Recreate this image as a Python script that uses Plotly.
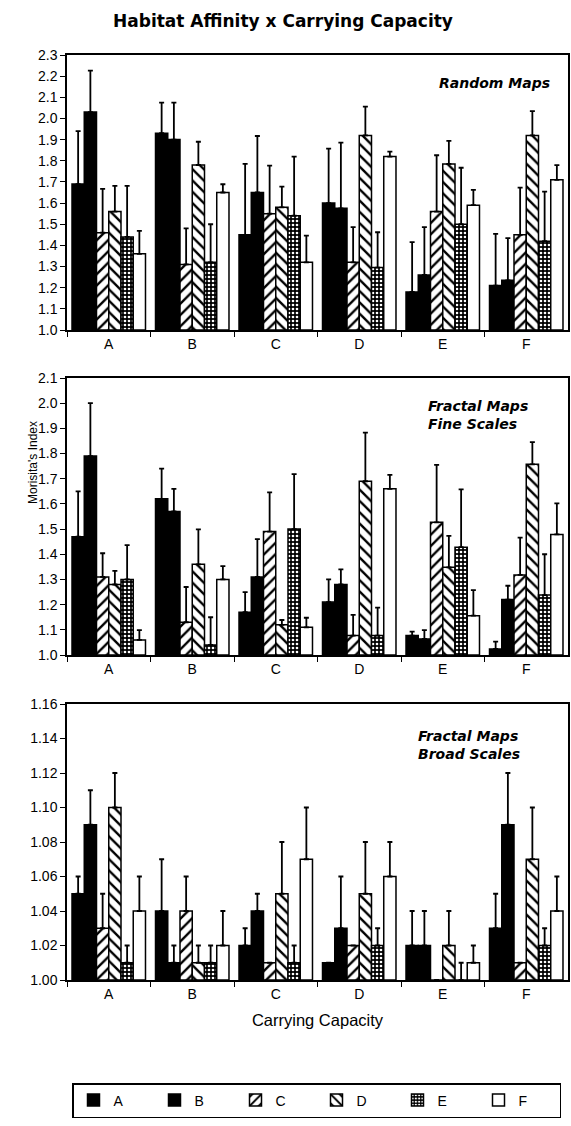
import plotly.graph_objects as go

# ---------------- data ----------------
categories = ["A", "B", "C", "D", "E", "F"]
series_names = ["A", "B", "C", "D", "E", "F"]

# Random Maps: mean per series (across carrying-capacity groups A..F) and upper error
random_A = [1.69, 1.93, 1.45, 1.60, 1.18, 1.21]
random_B = [2.03, 1.90, 1.65, 1.575, 1.26, 1.235]
random_C = [1.46, 1.31, 1.55, 1.32, 1.56, 1.45]
random_D = [1.56, 1.78, 1.58, 1.92, 1.785, 1.92]
random_E = [1.44, 1.32, 1.54, 1.295, 1.50, 1.42]
random_F = [1.36, 1.65, 1.32, 1.82, 1.59, 1.71]
random_err_A = [0.25, 0.145, 0.335, 0.257, 0.235, 0.244]
random_err_B = [0.196, 0.175, 0.267, 0.311, 0.226, 0.199]
random_err_C = [0.207, 0.17, 0.227, 0.166, 0.266, 0.223]
random_err_D = [0.121, 0.11, 0.098, 0.136, 0.109, 0.115]
random_err_E = [0.241, 0.18, 0.28, 0.167, 0.267, 0.234]
random_err_F = [0.109, 0.039, 0.126, 0.023, 0.072, 0.069]

# Fractal Maps, Fine Scales
fine_A = [1.47, 1.62, 1.17, 1.21, 1.077, 1.024]
fine_B = [1.79, 1.57, 1.31, 1.28, 1.064, 1.22]
fine_C = [1.31, 1.13, 1.49, 1.077, 1.527, 1.318]
fine_D = [1.28, 1.36, 1.12, 1.69, 1.348, 1.757]
fine_E = [1.30, 1.04, 1.50, 1.077, 1.428, 1.238]
fine_F = [1.06, 1.30, 1.11, 1.66, 1.156, 1.479]
fine_err_A = [0.18, 0.12, 0.08, 0.09, 0.016, 0.029]
fine_err_B = [0.21, 0.09, 0.15, 0.06, 0.035, 0.055]
fine_err_C = [0.094, 0.14, 0.156, 0.082, 0.228, 0.148]
fine_err_D = [0.054, 0.139, 0.019, 0.193, 0.125, 0.088]
fine_err_E = [0.136, 0.11, 0.218, 0.111, 0.23, 0.162]
fine_err_F = [0.039, 0.053, 0.038, 0.055, 0.102, 0.123]

# Fractal Maps, Broad Scales
broad_A = [1.05, 1.04, 1.02, 1.01, 1.02, 1.03]
broad_B = [1.09, 1.01, 1.04, 1.03, 1.02, 1.09]
broad_C = [1.03, 1.04, 1.01, 1.02, 1.00, 1.01]
broad_D = [1.10, 1.01, 1.05, 1.05, 1.02, 1.07]
broad_E = [1.01, 1.01, 1.01, 1.02, 1.00, 1.02]
broad_F = [1.04, 1.02, 1.07, 1.06, 1.01, 1.04]
broad_err_A = [0.01, 0.03, 0.01, 0.0, 0.02, 0.02]
broad_err_B = [0.02, 0.01, 0.01, 0.03, 0.02, 0.03]
broad_err_C = [0.02, 0.02, 0.0, 0.0, 0.0, 0.0]
broad_err_D = [0.02, 0.01, 0.03, 0.03, 0.02, 0.03]
broad_err_E = [0.01, 0.01, 0.01, 0.01, 0.01, 0.01]
broad_err_F = [0.02, 0.02, 0.03, 0.02, 0.01, 0.02]

panel_labels = ["<b><i>Random Maps</i></b>",
                "<b><i>Fractal Maps<br>Fine Scales</i></b>",
                "<b><i>Fractal Maps<br>Broad Scales</i></b>"]

panels = [
    ([random_A, random_B, random_C, random_D, random_E, random_F],
     [random_err_A, random_err_B, random_err_C, random_err_D, random_err_E, random_err_F]),
    ([fine_A, fine_B, fine_C, fine_D, fine_E, fine_F],
     [fine_err_A, fine_err_B, fine_err_C, fine_err_D, fine_err_E, fine_err_F]),
    ([broad_A, broad_B, broad_C, broad_D, broad_E, broad_F],
     [broad_err_A, broad_err_B, broad_err_C, broad_err_D, broad_err_E, broad_err_F]),
]

# ---------------- styling ----------------
FONT = "Liberation Sans, Arial, Helvetica, sans-serif"
HEAVY = "DejaVu Sans, Liberation Sans, Arial, sans-serif"
W, H = 571, 1126

styles = {
    "A": dict(color="black"),
    "B": dict(color="black"),
    "C": dict(color="white", pattern=dict(shape="/", bgcolor="white", fgcolor="black",
                                          size=8, solidity=0.3, fillmode="replace")),
    "D": dict(color="white", pattern=dict(shape="\\", bgcolor="white", fgcolor="black",
                                          size=8, solidity=0.3, fillmode="replace")),
    "E": dict(color="black", pattern=dict(shape=".", bgcolor="black", fgcolor="white",
                                          size=4, solidity=0.35, fillmode="replace")),
    "F": dict(color="white"),
}

x0, x1 = 67 / W, 568 / W
ydoms = [(1 - 330 / H, 1 - 55 / H), (1 - 655 / H, 1 - 378 / H), (1 - 980 / H, 1 - 704 / H)]
yranges = [(1.0, 2.3), (1.0, 2.1), (1.0, 1.16)]
ydticks = [0.1, 0.1, 0.02]
yfmts = [".1f", ".1f", ".2f"]

fig = go.Figure()

for p, (means, errs) in enumerate(panels):
    xa = "x" if p == 0 else f"x{p+1}"
    ya = "y" if p == 0 else f"y{p+1}"
    for s, name in enumerate(series_names):
        st = styles[name]
        base = yranges[p][0]
        marker = dict(color=st["color"], line=dict(color="black", width=1.5))
        if "pattern" in st:
            marker["pattern"] = st["pattern"]
        fig.add_trace(go.Bar(
            x=categories,
            y=[m - base for m in means[s]],
            base=base,
            name=name,
            legendgroup=name,
            showlegend=(p == 0),
            marker=marker,
            error_y=dict(type="data", array=errs[s], arrayminus=[0] * len(errs[s]),
                         symmetric=False, color="black", thickness=1.8, width=2.5),
            xaxis=xa, yaxis=ya,
        ))

layout = dict(
    width=W, height=H,
    margin=dict(l=0, r=0, t=0, b=0, autoexpand=False),
    template="none",
    paper_bgcolor="white", plot_bgcolor="white",
    font=dict(family=FONT, color="black", size=13),
    barmode="group", bargap=0.12, bargroupgap=0.0,
    title=dict(text="<b>Habitat Affinity x Carrying Capacity</b>",
               x=283 / W, xanchor="center", y=1 - 21 / H, yanchor="middle",
               font=dict(size=17, family=HEAVY)),
    showlegend=True,
    legend=dict(orientation="h", x=72 / W, xanchor="left", y=1 - 1083 / H, yanchor="top",
                bordercolor="black", borderwidth=1.5, bgcolor="white",
                font=dict(size=14, family=FONT), entrywidth=36, entrywidthmode="pixels",
                traceorder="normal"),
)

for p in range(3):
    xk = "xaxis" if p == 0 else f"xaxis{p+1}"
    yk = "yaxis" if p == 0 else f"yaxis{p+1}"
    ya = "y" if p == 0 else f"y{p+1}"
    xa = "x" if p == 0 else f"x{p+1}"
    layout[xk] = dict(domain=[x0, x1], anchor=ya, type="category",
                      categoryorder="array", categoryarray=categories,
                      tickson="boundaries", ticks="outside", ticklen=5, tickwidth=1,
                      tickcolor="black", showline=True, linecolor="black", linewidth=1.5,
                      mirror=True, showgrid=False, zeroline=False,
                      tickfont=dict(size=14), automargin=False, fixedrange=True)
    layout[yk] = dict(domain=list(ydoms[p]), anchor=xa, range=list(yranges[p]),
                      dtick=ydticks[p], tick0=yranges[p][0], tickformat=yfmts[p],
                      ticks="outside", ticklen=5, tickwidth=1, tickcolor="black",
                      showline=True, linecolor="black", linewidth=1.5, mirror=True,
                      showgrid=False, zeroline=False, tickfont=dict(size=14),
                      automargin=False, fixedrange=True)

layout["xaxis3"]["title"] = dict(text="Carrying Capacity", font=dict(size=16.5), standoff=14)

fig.update_layout(**layout)

# panel labels
lab_font = dict(size=14, family=HEAVY)
fig.add_annotation(text=panel_labels[0], xref="paper", yref="paper",
                   x=552 / W, xanchor="right", y=1 - 83 / H, yanchor="middle",
                   showarrow=False, font=lab_font, align="right")
fig.add_annotation(text=panel_labels[1], xref="paper", yref="paper",
                   x=426 / W, xanchor="left", y=1 - 415 / H, yanchor="middle",
                   showarrow=False, font=lab_font, align="left")
fig.add_annotation(text=panel_labels[2], xref="paper", yref="paper",
                   x=416 / W, xanchor="left", y=1 - 745 / H, yanchor="middle",
                   showarrow=False, font=lab_font, align="left")
# y axis title
fig.add_annotation(text="Morisita's Index", xref="paper", yref="paper",
                   x=33 / W, xanchor="center", y=1 - 463 / H, yanchor="middle",
                   textangle=-90, showarrow=False, font=dict(size=12, family=FONT))

fig.write_html("out.html", config={"displayModeBar": False},
               post_script="document.body.style.margin='0';document.body.style.overflow='hidden';")
